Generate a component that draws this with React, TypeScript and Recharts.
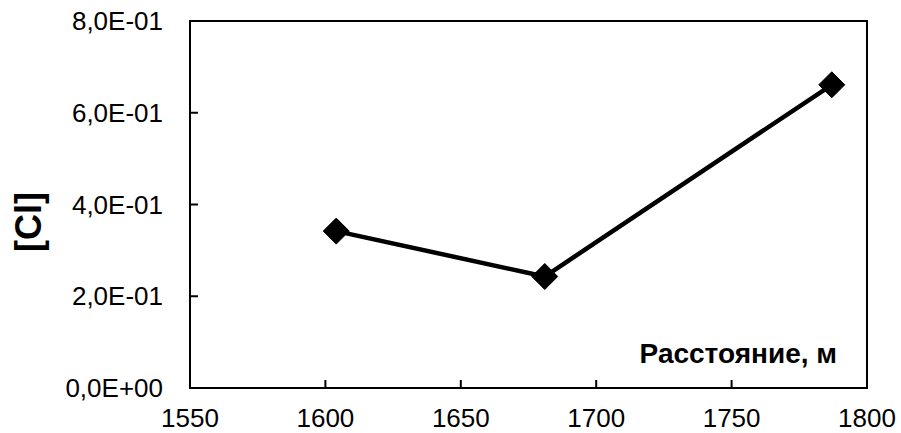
import React from 'react';
import { LineChart, Line, XAxis, YAxis, ReferenceArea } from 'recharts';

const distances = [1604, 1681, 1787];
const clValues = [0.342, 0.243, 0.661];
const xTicks = [1550, 1600, 1650, 1700, 1750, 1800];
const yTicks = [0, 0.2, 0.4, 0.6, 0.8];

const data = distances.map((x, i) => ({ x, y: clValues[i] }));

const FONT = '"Liberation Sans", Arial, sans-serif';

function fmtExp(v: number): string {
  if (v === 0) return '0,0E+00';
  let e = Math.floor(Math.log10(Math.abs(v)) + 1e-9);
  let m = v / Math.pow(10, e);
  m = Math.round(m * 10) / 10;
  if (m >= 10) { m = m / 10; e += 1; }
  const sign = e < 0 ? '-' : '+';
  const ex = String(Math.abs(e)).padStart(2, '0');
  return m.toFixed(1).replace('.', ',') + 'E' + sign + ex;
}

const YTick = (props: any) => {
  const { x, y, payload } = props;
  return (
    <g>
      <line x1={x} y1={y} x2={x + 8} y2={y} stroke="#000" strokeWidth={2} />
      <text x={x - 27} y={y + 9} textAnchor="end" fontFamily={FONT} fontSize={26} fill="#000">
        {fmtExp(payload.value)}
      </text>
    </g>
  );
};

const XTick = (props: any) => {
  const { x, y, payload } = props;
  return (
    <g>
      <line x1={x} y1={y} x2={x} y2={y - 8} stroke="#000" strokeWidth={2} />
      <text x={x} y={y + 39} textAnchor="middle" fontFamily={FONT} fontSize={26} fill="#000">
        {payload.value}
      </text>
    </g>
  );
};

const Diamond = (props: any) => {
  const { cx, cy, index } = props;
  const h = 13;
  return (
    <path
      key={`d-${index}`}
      d={`M${cx},${cy - h} L${cx + h},${cy} L${cx},${cy + h} L${cx - h},${cy} Z`}
      fill="#000"
      stroke="#000"
    />
  );
};

export default function App() {
  return (
    <div style={{ position: 'absolute', left: 0, top: 0, width: 901, height: 433, background: '#fff' }}>
      <LineChart
        width={901}
        height={433}
        data={data}
        margin={{ top: 21, right: 34, bottom: 0, left: 100 }}
      >
        <XAxis
          type="number"
          dataKey="x"
          domain={[1550, 1800]}
          ticks={xTicks}
          interval={0}
          height={45}
          tickSize={0}
          tickMargin={0}
          tick={<XTick />}
          axisLine={{ stroke: '#000', strokeWidth: 2 }}
          tickLine={false}
          label={(p: any) => (
            <text x={837} y={363} textAnchor="end" fontFamily={FONT} fontWeight="bold" fontSize={28} fill="#000">
              Расстояние, м
            </text>
          )}
        />
        <YAxis
          type="number"
          domain={[0, 0.8]}
          ticks={yTicks}
          interval={0}
          width={90}
          tickSize={0}
          tickMargin={0}
          tick={<YTick />}
          axisLine={{ stroke: '#000', strokeWidth: 2 }}
          tickLine={false}
          label={(p: any) => (
            <text
              x={0}
              y={0}
              transform="translate(41,222) rotate(-90)"
              textAnchor="middle"
              fontFamily={FONT}
              fontWeight="bold"
              fontSize={36}
              fill="#000"
            >
              [Cl]
            </text>
          )}
        />
        <ReferenceArea x1={1550} x2={1800} y1={0} y2={0.8} fill="none" stroke="#000" strokeWidth={2} ifOverflow="visible" />
        <Line
          type="linear"
          dataKey="y"
          stroke="#000"
          strokeWidth={4.5}
          dot={<Diamond />}
          activeDot={false}
          isAnimationActive={false}
        />
      </LineChart>
    </div>
  );
}
